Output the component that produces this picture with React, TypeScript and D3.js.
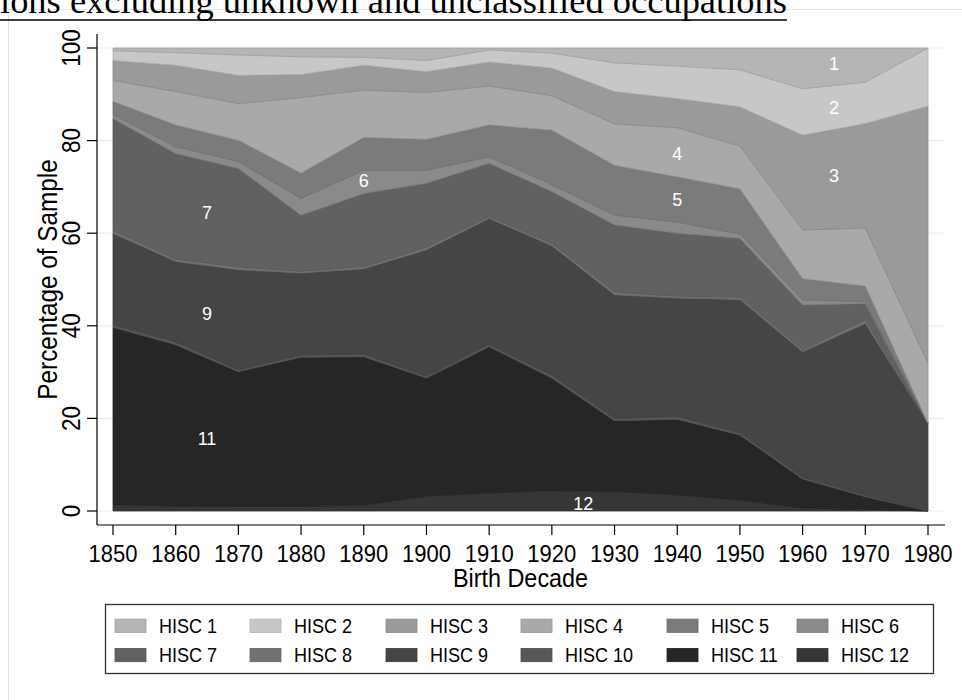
import React from "react";
import * as d3 from "d3";

const decades = [1850, 1860, 1870, 1880, 1890, 1900, 1910, 1920, 1930, 1940, 1950, 1960, 1970, 1980];
const hisc1 = [0.6, 1.0, 1.5, 1.9, 2.0, 2.7, 0.4, 1.1, 3.2, 3.9, 4.7, 8.8, 7.4, 0];
const hisc2 = [2.1, 2.7, 4.4, 3.8, 1.7, 2.4, 2.6, 3.2, 6.2, 7.0, 8.0, 10.0, 8.9, 12.5];
const hisc3 = [4.3, 5.7, 6.1, 5.0, 5.4, 4.5, 5.2, 6.0, 7.0, 6.3, 8.5, 20.5, 22.6, 55.6];
const hisc4 = [4.5, 7.2, 7.9, 16.3, 10.2, 10.1, 8.4, 7.4, 8.9, 10.6, 9.2, 10.5, 12.5, 12.9];
const hisc5 = [2.9, 4.7, 4.6, 5.5, 7.1, 6.7, 6.9, 11.8, 10.8, 9.8, 9.8, 4.6, 3.4, 0];
const hisc6 = [0.8, 1.5, 1.5, 3.6, 5.0, 2.8, 1.4, 1.5, 2.1, 2.4, 0.9, 1.1, 0.4, 0];
const hisc7 = [24.2, 22.8, 21.3, 12.1, 15.8, 13.8, 11.5, 11.2, 14.5, 13.6, 12.7, 9.7, 3.5, 0];
const hisc8 = [0.6, 0.5, 0.6, 0.4, 0.5, 0.6, 0.4, 0.5, 0.6, 0.4, 0.5, 0.4, 0.8, 0];
const hisc9 = [19.8, 17.4, 21.6, 17.7, 18.4, 27.3, 27.2, 28.0, 26.7, 25.6, 28.8, 27.1, 37.1, 19.0];
const hisc10 = [0.5, 0.6, 0.4, 0.5, 0.6, 0.4, 0.5, 0.6, 0.5, 0.6, 0.5, 0.4, 0.3, 0];
const hisc11 = [38.4, 34.8, 29.1, 32.2, 32.0, 25.5, 31.6, 24.3, 15.3, 16.3, 14.0, 6.3, 2.7, 0];
const hisc12 = [1.3, 1.1, 1.0, 1.0, 1.3, 3.2, 3.9, 4.4, 4.2, 3.5, 2.4, 0.6, 0.4, 0];

const seriesNames = ["HISC 1", "HISC 2", "HISC 3", "HISC 4", "HISC 5", "HISC 6",
  "HISC 7", "HISC 8", "HISC 9", "HISC 10", "HISC 11", "HISC 12"];
const seriesValues = [hisc1, hisc2, hisc3, hisc4, hisc5, hisc6, hisc7, hisc8, hisc9, hisc10, hisc11, hisc12];
const seriesColors = ["#b5b5b5", "#c7c7c7", "#9a9a9a", "#a9a9a9", "#7b7b7b", "#8a8a8a",
  "#616161", "#727272", "#454545", "#575757", "#262626", "#363636"];

const yTicks = [0, 20, 40, 60, 80, 100];
const xTicks = decades;

// in-chart class labels, in data units
const labelText = ["1", "2", "3", "4", "5", "6", "7", "9", "11", "12"];
const labelX = [1965, 1965, 1965, 1940, 1940, 1890, 1865, 1865, 1865, 1925];
const labelY = [96.8, 87.3, 72.6, 77.3, 67.4, 71.5, 64.6, 42.8, 15.8, 1.7];

const titleText = "ions excluding unknown and unclassified occupations";
const xTitle = "Birth Decade";
const yTitle = "Percentage of Sample";

const SANS = "'Liberation Sans', Arial, Helvetica, sans-serif";

function T({ x, y, rotate = 0, size, sx = 0.9, anchor = "middle", fill = "#000", children }: any) {
  return (
    <text
      transform={`translate(${x},${y}) rotate(${rotate}) scale(${sx},1)`}
      fontFamily={SANS}
      fontSize={size}
      textAnchor={anchor}
      fill={fill}
    >
      {children}
    </text>
  );
}

export default function App() {
  const W = 962, H = 700;
  const x = d3.scaleLinear().domain([1850, 1980]).range([113, 928]);
  const y = d3.scaleLinear().domain([0, 100]).range([511, 48]);

  const table = decades.map((d, i) => {
    const row: any = { decade: d };
    seriesNames.forEach((n, k) => (row[n] = seriesValues[k][i]));
    return row;
  });
  const keys = [...seriesNames].reverse(); // HISC 12 at the bottom
  const stacked = d3.stack().keys(keys).order(d3.stackOrderNone).offset(d3.stackOffsetNone)(table);
  const area = d3.area<any>()
    .x((d: any) => x(d.data.decade))
    .y0((d: any) => y(d[0]))
    .y1((d: any) => y(d[1]));

  const colorOf = (n: string) => seriesColors[seriesNames.indexOf(n)];

  const axisLeft = 97, axisRight = 945, axisTop = 34, axisBottom = 525;

  // legend layout
  const legCols = [115, 250, 386, 521, 667, 797];
  const legRows = [625.7, 655];

  return (
    <svg width={W} height={H} style={{ position: "absolute", left: 0, top: 0, background: "#fff" }}>
      <rect x={0} y={0} width={W} height={H} fill="#fff" />
      <rect x={8.5} y={9.5} width={1000} height={1000} fill="none" stroke="#e4e4e4" strokeWidth={1} />
      {/* title, cut off at the top as in the source page */}
      <text x={0} y={13} fontFamily="'Liberation Serif', 'Times New Roman', serif" fontSize={36}
        textLength={787} lengthAdjust="spacingAndGlyphs" fill="#000">{titleText}</text>
      <line x1={0} x2={787} y1={20} y2={20} stroke="#000" strokeWidth={1.5} />

      {/* gridlines */}
      {yTicks.map((t) => (
        <line key={"g" + t} x1={axisLeft} x2={axisRight} y1={y(t)} y2={y(t)} stroke="#e6eff1" strokeWidth={1.2} />
      ))}

      {/* stacked areas */}
      {stacked.map((s: any) => (
        <path key={s.key} d={area(s) as string} fill={colorOf(s.key)}
          stroke={d3.color(colorOf(s.key))!.darker(0.35).toString()} strokeWidth={0.8} strokeLinejoin="round" />
      ))}

      {/* class labels */}
      {labelText.map((t, i) => (
        <T key={"l" + i} x={x(labelX[i])} y={y(labelY[i]) + 6.8} size={19} sx={0.95} fill="#fff">{t}</T>
      ))}

      {/* y axis */}
      <line x1={axisLeft} x2={axisLeft} y1={axisTop} y2={axisBottom} stroke="#000" strokeWidth={1.2} />
      {yTicks.map((t) => (
        <g key={"y" + t}>
          <line x1={axisLeft - 10} x2={axisLeft} y1={y(t)} y2={y(t)} stroke="#000" strokeWidth={1.2} />
          <T x={80} y={y(t)} rotate={-90} size={25}>{t}</T>
        </g>
      ))}
      <T x={57} y={(y(0) + y(100)) / 2} rotate={-90} size={27}>{yTitle}</T>

      {/* x axis */}
      <line x1={axisLeft} x2={axisRight} y1={axisBottom} y2={axisBottom} stroke="#000" strokeWidth={1.2} />
      {xTicks.map((t) => (
        <g key={"x" + t}>
          <line x1={x(t)} x2={x(t)} y1={axisBottom} y2={axisBottom + 10} stroke="#000" strokeWidth={1.2} />
          <T x={x(t)} y={562} size={24.5}>{t}</T>
        </g>
      ))}
      <T x={(x(1850) + x(1980)) / 2} y={587} size={26}>{xTitle}</T>

      {/* legend */}
      <rect x={105.5} y={604.5} width={828} height={69} fill="#fff" stroke="#333" strokeWidth={1.3} />
      {seriesNames.map((n, i) => {
        const c = i % 6, r = Math.floor(i / 6);
        const lx = legCols[c], ly = legRows[r];
        return (
          <g key={"leg" + n}>
            <rect x={lx} y={ly - 6.6} width={31} height={13.3} fill={colorOf(n)}
              stroke={d3.color(colorOf(n))!.darker(0.3).toString()} strokeWidth={0.8} />
            <T x={lx + 44} y={ly + 7.3} size={20.5} sx={0.88} anchor="start">{n}</T>
          </g>
        );
      })}
    </svg>
  );
}
